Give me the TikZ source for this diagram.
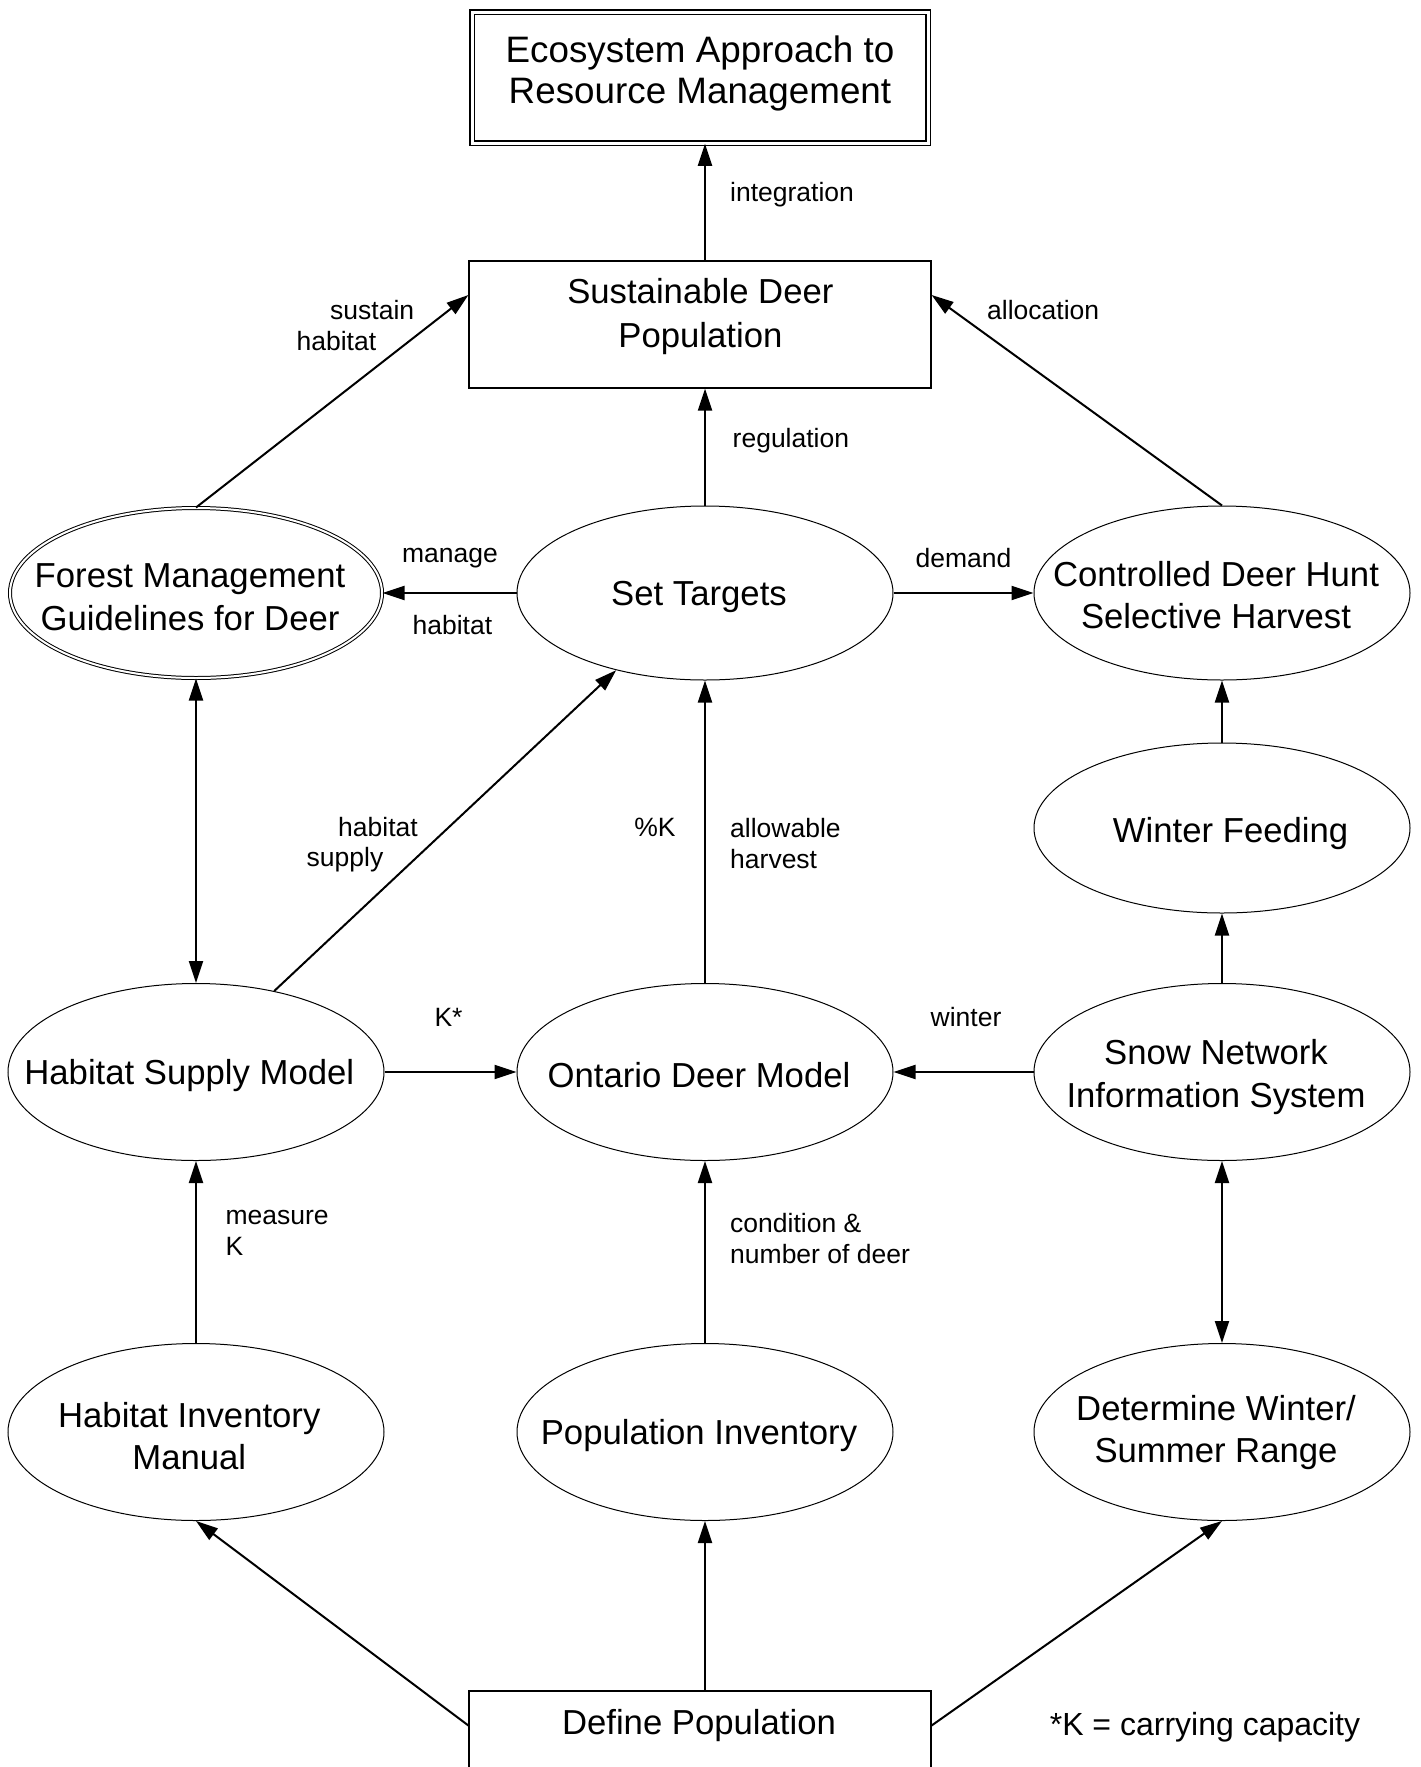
\documentclass[tikz,border=0pt]{standalone}
\usepackage{fontspec}
\setmainfont{Liberation Sans}
\usetikzlibrary{shapes.geometric,arrows.meta}
\tikzset{
  ell/.style={draw, ellipse, line width=1pt, minimum width=376pt, minimum height=175pt, inner sep=0pt},
  bigt/.style={font=\fontsize{34.7}{42.5}\selectfont, align=center, inner sep=0pt, yshift=-3.5pt},
  lab/.style={font=\fontsize{26.5}{31.5}\selectfont, align=left, inner sep=0pt, yshift=-3.5pt},
  arr/.style={line width=2pt, -{Triangle[length=22pt,width=14pt]}},
  darr/.style={line width=2pt, {Triangle[length=22pt,width=14pt]}-{Triangle[length=22pt,width=14pt]}},
}
\begin{document}
\begin{tikzpicture}[x=1pt,y=-1pt]
\path[use as bounding box, fill=white] (0,0) rectangle (1421,1767);
\clip (0,0) rectangle (1421,1767);

% boxes
\node[draw, double, line width=1.5pt, double distance=3pt, minimum width=456pt, minimum height=131pt, inner sep=0pt] (eco) at (700,77.5) {};
\node[bigt, font=\fontsize{36.8}{41.7}\selectfont] (ecot) at (700,70) {Ecosystem Approach to\\Resource Management};
\node[draw, line width=1.2pt, minimum width=462pt, minimum height=127pt, inner sep=0pt] (sust) at (700,324.5) {};
\node[bigt, font=\fontsize{34.7}{44}\selectfont] (sustt) at (700.4,312.7) {Sustainable Deer\\Population};
\node[draw, line width=1.2pt, minimum width=462pt, minimum height=140pt, inner sep=0pt] (def) at (700,1761) {};
\node[bigt] (deft) at (699,1722) {Define Population};

% ellipses
\node[ell, double, double distance=2pt, minimum width=372pt, minimum height=170pt] (forest) at (196,593) {};
\node[bigt] (forestt) at (190,593.9) {Forest Management\\Guidelines for Deer};
\node[ell, minimum height=174pt] (st) at (705,593) {};
\node[bigt] (stt) at (699,593) {Set Targets};
\node[ell, minimum height=174pt] (ch) at (1222,593) {};
\node[bigt] (cht) at (1216,591.6) {Controlled Deer Hunt\\Selective Harvest};
\node[ell, minimum height=170pt] (wf) at (1222,828) {};
\node[bigt] (wft) at (1230.6,830.5) {Winter Feeding};
\node[ell, minimum height=177pt] (hs) at (196,1072) {};
\node[bigt] (hst) at (189.3,1071.6) {Habitat Supply Model};
\node[ell, minimum height=177pt] (ont) at (705,1072) {};
\node[bigt] (ontt) at (699,1071.6) {Ontario Deer Model};
\node[ell, minimum height=177pt] (snow) at (1222,1072) {};
\node[bigt] (snowt) at (1216,1073.3) {Snow Network\\Information System};
\node[ell, minimum height=177pt] (hi) at (196,1432) {};
\node[bigt] (hit) at (189.3,1432.8) {Habitat Inventory\\Manual};
\node[ell, minimum height=177pt] (pi) at (705,1432) {};
\node[bigt] (pit) at (699,1432.3) {Population Inventory};
\node[ell, minimum height=177pt] (det) at (1222,1432) {};
\node[bigt] (dett) at (1216,1429) {Determine Winter/\\Summer Range};

% connectors
\draw[arr] (st.north |- sust.north) -- (st.north |- eco.south);
\draw[arr] (st.north) -- (st.north |- sust.south);
\draw[arr] (forest.north) -- ([yshift=-34.6pt]sust.north west);
\draw[arr] (ch.north) -- ([yshift=-34.6pt]sust.north east);
\draw[arr] (st.west) -- (forest.east);
\draw[arr] (st.east) -- (ch.west);
\draw[arr] (wf.north) -- (ch.south);
\draw[arr] (snow.north) -- (wf.south);
\draw[darr] (hs.north) -- (forest.south);
\draw[arr] (hs.46) -- (st.221);
\draw[arr] (ont.north) -- (st.south);
\draw[arr] (hs.east) -- (ont.west);
\draw[arr] (snow.west) -- (ont.east);
\draw[darr] (det.north) -- (snow.south);
\draw[arr] (hi.north) -- (hs.south);
\draw[arr] (pi.north) -- (ont.south);
\draw[arr] (def.west |- deft) -- (hi.south);
\draw[arr] (pi.south |- def.north) -- (pi.south);
\draw[arr] (def.east |- deft) -- (det.south);

% labels
\node[lab, anchor=west] (lint) at (730,191.6) {integration};
\node[lab, anchor=west] (lsus1) at (330,306.5) {sustain};
\node[lab, anchor=west] (lsus2) at (296.4,338) {habitat};
\node[lab, anchor=west] (lall) at (987,306.5) {allocation};
\node[lab, anchor=west] (lreg) at (732.5,437) {regulation};
\node[lab] (lman1) at (450,554.4) {manage};
\node[lab] (lman2) at (452.4,622) {habitat};
\node[lab] (ldem) at (963.5,554.4) {demand};
\node[lab, anchor=west] (lhs1) at (338,823.7) {habitat};
\node[lab, anchor=west] (lhs2) at (306.5,856.4) {supply};
\node[lab] (lpk) at (655,823.7) {\%K};
\node[lab, anchor=west] (lah) at (730,840) {allowable\\harvest};
\node[lab] (lk) at (448.5,1014) {K*};
\node[lab] (lwin) at (966,1014) {winter};
\node[lab, anchor=west] (lmk) at (225.4,1229.4) {measure\\K};
\node[lab, anchor=west] (lcn) at (730,1235) {condition \&\\number of deer};
\node[inner sep=0pt, font=\fontsize{32}{38}\selectfont, yshift=-3pt] (note) at (1205,1724) {*K = carrying capacity};
\end{tikzpicture}
\end{document}
